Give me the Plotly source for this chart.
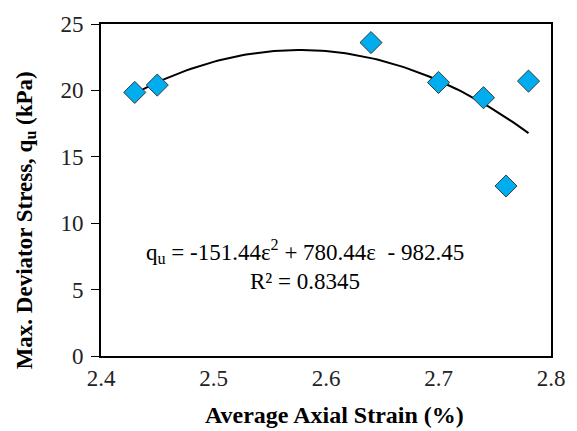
import numpy as np
import plotly.graph_objects as go

# Data
strain = [2.43, 2.45, 2.64, 2.70, 2.74, 2.76, 2.78]
qu = [19.85, 20.4, 23.6, 20.6, 19.45, 12.8, 20.7]

# Polynomial trendline coefficients (as shown on the chart)
coef = [-151.44, 780.44, -982.45]
r2 = 0.8345

x_ticks = [2.4, 2.5, 2.6, 2.7, 2.8]
y_ticks = [0, 5, 10, 15, 20, 25]

xfit = np.linspace(min(strain), max(strain), 100)
yfit = np.polyval(coef, xfit)

FONT = "Liberation Serif"
L, R, T, B = 101, 554, 17, 356  # plot-area pixel bounds

def px_x(p):
    return (p - L) / (R - L)

def px_y(p):
    return (B - p) / (B - T)

fig = go.Figure()
fig.add_trace(go.Scatter(x=xfit, y=yfit, mode="lines",
                         line=dict(color="black", width=2), showlegend=False,
                         hoverinfo="skip"))
fig.add_trace(go.Scatter(x=strain, y=qu, mode="markers",
                         marker=dict(symbol="diamond", size=17, color="#00AEEF",
                                     line=dict(color="#3a3a3a", width=1)),
                         showlegend=False))

eq = ("q<sub>u</sub> = %.2fε<sup>2</sup> + %.2fε  - %.2f" % (coef[0], coef[1], -coef[2]))
fig.add_annotation(x=2.581, y=7.9, xref="x", yref="y", text=eq, showarrow=False,
                   font=dict(family=FONT, size=23, color="black"))
fig.add_annotation(x=2.581, y=5.6, xref="x", yref="y", text="R² = %.4f" % r2,
                   showarrow=False, font=dict(family=FONT, size=23, color="black"))

# Axis titles
fig.add_annotation(x=px_x(336), y=px_y(416), xref="paper", yref="paper",
                   xanchor="center", yanchor="middle",
                   text="<b>Average Axial Strain (%)</b>",
                   showarrow=False, font=dict(family=FONT, size=24, color="black"))
fig.add_annotation(x=px_x(25), y=px_y(218), xref="paper", yref="paper",
                   xanchor="center", yanchor="middle",
                   text="<b>Max. Deviator Stress, q<sub>u</sub> (kPa)</b>", textangle=-90,
                   showarrow=False, font=dict(family=FONT, size=23, color="black"))

fig.update_layout(
    width=577, height=431,
    margin=dict(l=L, r=577 - R, t=T, b=431 - B),
    paper_bgcolor="white", plot_bgcolor="white",
    font=dict(family=FONT, size=22, color="black"),
)

fig.update_xaxes(range=[2.4, 2.8], tickvals=x_ticks, ticktext=[str(v) for v in x_ticks],
                 showgrid=False, zeroline=False, showline=True, linecolor="black",
                 linewidth=2, mirror=True, ticks="", ticklabelstandoff=0,
                 tickfont=dict(family=FONT, size=23, color="#222"))
fig.update_yaxes(range=[0, 25], tickvals=y_ticks, showgrid=False, zeroline=False,
                 showline=True, linecolor="black", linewidth=2, mirror=True,
                 ticks="outside", ticklen=8, tickwidth=1, tickcolor="black",
                 ticklabelstandoff=3,
                 tickfont=dict(family=FONT, size=23, color="#222"))

fig.write_html("out.html")
